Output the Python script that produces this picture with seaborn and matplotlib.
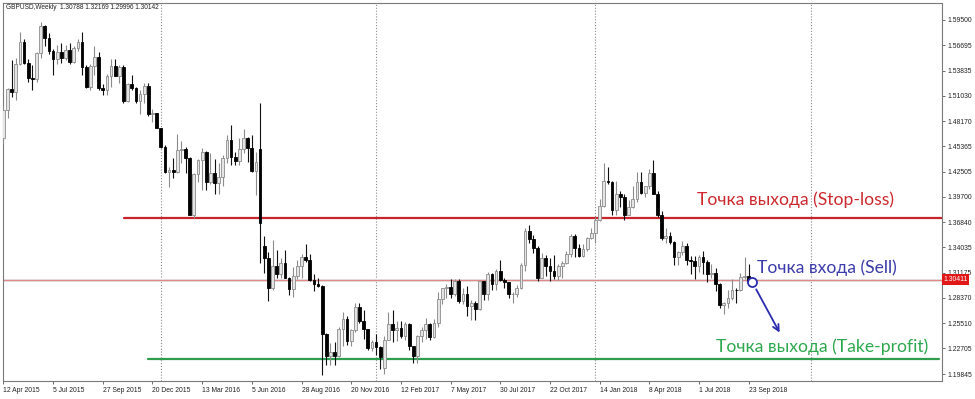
import numpy as np
import pandas as pd
import matplotlib
matplotlib.use("Agg")
import matplotlib.pyplot as plt
import seaborn as sns

# ---------------- data ----------------
opens = [
    1.4626, 1.4946, 1.5180, 1.5140, 1.5455, 1.5705, 1.5470, 1.5300, 1.5285, 1.5575,
    1.5880, 1.5745, 1.5600, 1.5510, 1.5590, 1.5520, 1.5615, 1.5480, 1.5640, 1.5700,
    1.5420, 1.5195, 1.5430, 1.5540, 1.5190, 1.5170, 1.5320, 1.5430, 1.5320, 1.5425,
    1.5040, 1.5230, 1.5185, 1.5040, 1.5120, 1.5210, 1.4895, 1.4905, 1.4740, 1.4530,
    1.4250, 1.4265, 1.4250, 1.4495, 1.4500, 1.4400, 1.3770, 1.4230, 1.4380, 1.4470,
    1.4130, 1.4236, 1.4125, 1.4195, 1.4400, 1.4610, 1.4420, 1.4375, 1.4500, 1.4630,
    1.4515, 1.4255, 1.4500, 1.3420, 1.3280, 1.2950, 1.3190, 1.3110, 1.3230, 1.3060,
    1.2940, 1.3080, 1.3190, 1.3300, 1.3260, 1.3040, 1.2995, 1.2970, 1.2430, 1.2185,
    1.2230, 1.2190, 1.2485, 1.2595, 1.2350, 1.2475, 1.2740, 1.2580, 1.2485, 1.2280,
    1.2340, 1.2285, 1.2050, 1.2370, 1.2550, 1.2480, 1.2495, 1.2410, 1.2545, 1.2295,
    1.2190, 1.2405, 1.2475, 1.2550, 1.2400, 1.2560, 1.2830, 1.2950, 1.2960, 1.2880,
    1.3030, 1.2800, 1.2880, 1.2745, 1.2780, 1.2715, 1.3025, 1.2885, 1.3100, 1.2995,
    1.3135, 1.3040, 1.3010, 1.2875, 1.2880, 1.2950, 1.3200, 1.3590, 1.3500, 1.3400,
    1.3065, 1.3285, 1.3190, 1.3135, 1.3080, 1.3190, 1.3225, 1.3325, 1.3525, 1.3400,
    1.3310, 1.3380, 1.3505, 1.3565, 1.3715, 1.3865, 1.4150, 1.4130, 1.3825, 1.4000,
    1.3965, 1.3770, 1.3850, 1.3950, 1.4140, 1.4015, 1.4090, 1.4240, 1.4005, 1.3770,
    1.3510, 1.3525, 1.3465, 1.3300, 1.3355, 1.3415, 1.3260, 1.3255, 1.3190, 1.3290,
    1.3235, 1.3100, 1.3115, 1.2995, 1.2760, 1.2775, 1.2840, 1.2925, 1.2920, 1.3070,
    1.30788,
]
highs = [
    1.4986, 1.5192, 1.5498, 1.5523, 1.5815, 1.5740, 1.5515, 1.5440, 1.5590, 1.5930,
    1.5890, 1.5800, 1.5620, 1.5675, 1.5690, 1.5675, 1.5690, 1.5655, 1.5735, 1.5820,
    1.5440, 1.5455, 1.5660, 1.5595, 1.5235, 1.5350, 1.5510, 1.5510, 1.5450, 1.5440,
    1.5240, 1.5335, 1.5200, 1.5170, 1.5240, 1.5240, 1.4950, 1.4910, 1.4745, 1.4550,
    1.4300, 1.4400, 1.4670, 1.4590, 1.4530, 1.4415, 1.4235, 1.4390, 1.4515, 1.4480,
    1.4460, 1.4390, 1.4345, 1.4440, 1.4665, 1.4770, 1.4470, 1.4630, 1.4730, 1.4635,
    1.4660, 1.4470, 1.5018, 1.3530, 1.3350, 1.3480, 1.3370, 1.3280, 1.3370, 1.3070,
    1.3185, 1.3260, 1.3325, 1.3445, 1.3330, 1.3100, 1.3060, 1.2985, 1.2445, 1.2330,
    1.2340, 1.2510, 1.2675, 1.2630, 1.2490, 1.2775, 1.2775, 1.2705, 1.2490, 1.2370,
    1.2430, 1.2300, 1.2415, 1.2675, 1.2705, 1.2580, 1.2580, 1.2570, 1.2555, 1.2300,
    1.2425, 1.2510, 1.2615, 1.2555, 1.2600, 1.2905, 1.2950, 1.2990, 1.3050, 1.3045,
    1.3050, 1.2950, 1.2975, 1.2810, 1.2800, 1.3030, 1.3030, 1.3125, 1.3115, 1.3160,
    1.3265, 1.3055, 1.3020, 1.2905, 1.2980, 1.3225, 1.3615, 1.3657, 1.3540, 1.3420,
    1.3340, 1.3320, 1.3280, 1.3320, 1.3220, 1.3245, 1.3365, 1.3550, 1.3550, 1.3440,
    1.3445, 1.3515, 1.3615, 1.3745, 1.3945, 1.4345, 1.4300, 1.4150, 1.4145, 1.4035,
    1.4000, 1.3930, 1.4090, 1.4245, 1.4245, 1.4090, 1.4280, 1.4377, 1.4035, 1.3815,
    1.3620, 1.3570, 1.3470, 1.3365, 1.3470, 1.3450, 1.3305, 1.3310, 1.3315, 1.3365,
    1.3260, 1.3215, 1.3175, 1.3005, 1.2795, 1.2930, 1.3045, 1.2945, 1.3120, 1.3298,
    1.32169,
]
lows = [
    1.4566, 1.4853, 1.5085, 1.5054, 1.5450, 1.5455, 1.5255, 1.5170, 1.5260, 1.5520,
    1.5660, 1.5565, 1.5330, 1.5460, 1.5470, 1.5505, 1.5460, 1.5465, 1.5605, 1.5335,
    1.5185, 1.5165, 1.5330, 1.5160, 1.5105, 1.5105, 1.5200, 1.5320, 1.5245, 1.5025,
    1.5030, 1.5170, 1.5025, 1.4895, 1.5015, 1.4870, 1.4805, 1.4735, 1.4515, 1.4240,
    1.4080, 1.4175, 1.4240, 1.4350, 1.4240, 1.3760, 1.3735, 1.4135, 1.4050, 1.4050,
    1.4110, 1.4005, 1.4005, 1.4090, 1.4345, 1.4330, 1.4330, 1.4330, 1.4455, 1.4355,
    1.4250, 1.3990, 1.3229, 1.3120, 1.2798, 1.2930, 1.3060, 1.3055, 1.3055, 1.2865,
    1.2850, 1.3050, 1.3055, 1.3235, 1.3030, 1.2915, 1.2955, 1.1970, 1.2085, 1.2085,
    1.2080, 1.2170, 1.2300, 1.2305, 1.2300, 1.2450, 1.2560, 1.2375, 1.2250, 1.2240,
    1.2195, 1.2040, 1.1986, 1.2370, 1.2345, 1.2350, 1.2385, 1.2370, 1.2250, 1.2110,
    1.2110, 1.2345, 1.2380, 1.2365, 1.2390, 1.2515, 1.2770, 1.2840, 1.2840, 1.2860,
    1.2775, 1.2770, 1.2635, 1.2590, 1.2590, 1.2700, 1.2810, 1.2810, 1.2930, 1.2930,
    1.3030, 1.2950, 1.2840, 1.2775, 1.2850, 1.2940, 1.3140, 1.3450, 1.3340, 1.3030,
    1.3060, 1.3080, 1.3030, 1.3050, 1.3035, 1.3060, 1.3220, 1.3300, 1.3300, 1.3300,
    1.3300, 1.3360, 1.3500, 1.3455, 1.3700, 1.3860, 1.4110, 1.3765, 1.3760, 1.3855,
    1.3710, 1.3760, 1.3840, 1.3910, 1.4000, 1.3965, 1.4055, 1.4000, 1.3745, 1.3485,
    1.3450, 1.3445, 1.3205, 1.3205, 1.3320, 1.3200, 1.3100, 1.3050, 1.3125, 1.3100,
    1.3010, 1.3060, 1.2915, 1.2725, 1.2662, 1.2720, 1.2815, 1.2785, 1.2915, 1.3050,
    1.29996,
]
closes = [
    1.4946, 1.5180, 1.5140, 1.5455, 1.5705, 1.5470, 1.5300, 1.5285, 1.5575, 1.5880,
    1.5745, 1.5600, 1.5510, 1.5590, 1.5520, 1.5615, 1.5480, 1.5640, 1.5700, 1.5420,
    1.5195, 1.5430, 1.5540, 1.5190, 1.5170, 1.5320, 1.5430, 1.5320, 1.5425, 1.5040,
    1.5230, 1.5185, 1.5040, 1.5120, 1.5210, 1.4895, 1.4905, 1.4740, 1.4530, 1.4250,
    1.4265, 1.4250, 1.4495, 1.4500, 1.4400, 1.3770, 1.4230, 1.4380, 1.4470, 1.4130,
    1.4236, 1.4125, 1.4195, 1.4400, 1.4610, 1.4420, 1.4375, 1.4500, 1.4630, 1.4515,
    1.4255, 1.4360, 1.3680, 1.3280, 1.2950, 1.3190, 1.3110, 1.3230, 1.3060, 1.2940,
    1.3080, 1.3190, 1.3300, 1.3260, 1.3040, 1.2995, 1.2970, 1.2430, 1.2185, 1.2230,
    1.2190, 1.2485, 1.2595, 1.2350, 1.2475, 1.2740, 1.2580, 1.2485, 1.2280, 1.2340,
    1.2285, 1.2180, 1.2370, 1.2550, 1.2480, 1.2495, 1.2410, 1.2545, 1.2295, 1.2190,
    1.2405, 1.2475, 1.2550, 1.2400, 1.2560, 1.2830, 1.2950, 1.2960, 1.2880, 1.3030,
    1.2800, 1.2880, 1.2745, 1.2780, 1.2715, 1.3025, 1.2885, 1.3100, 1.2995, 1.3135,
    1.3040, 1.3010, 1.2875, 1.2880, 1.2950, 1.3200, 1.3590, 1.3500, 1.3400, 1.3065,
    1.3285, 1.3190, 1.3135, 1.3080, 1.3190, 1.3225, 1.3325, 1.3525, 1.3400, 1.3310,
    1.3380, 1.3505, 1.3565, 1.3715, 1.3865, 1.4150, 1.4130, 1.3825, 1.4000, 1.3965,
    1.3770, 1.3850, 1.3950, 1.4140, 1.4015, 1.4090, 1.4240, 1.4005, 1.3770, 1.3510,
    1.3525, 1.3465, 1.3300, 1.3355, 1.3415, 1.3260, 1.3255, 1.3190, 1.3290, 1.3235,
    1.3100, 1.3115, 1.2995, 1.2760, 1.2775, 1.2840, 1.2925, 1.2920, 1.3070, 1.3080,
    1.30142,
]

date_tick_labels = ["12 Apr 2015", "5 Jul 2015", "27 Sep 2015", "20 Dec 2015",
                    "13 Mar 2016", "5 Jun 2016", "28 Aug 2016", "20 Nov 2016",
                    "12 Feb 2017", "7 May 2017", "30 Jul 2017", "22 Oct 2017",
                    "14 Jan 2018", "8 Apr 2018", "1 Jul 2018", "23 Sep 2018"]
price_ticks = [1.59500, 1.56695, 1.53835, 1.51030, 1.48170, 1.45365, 1.42505, 1.39700,
               1.36840, 1.34035, 1.31175, 1.28370, 1.25510, 1.22705, 1.19845]
year_start_bars = [38, 90, 143, 195]   # first weekly bar of 2016, 2017, 2018, 2019
current_price = 1.30411
stop_loss_level = 1.3727
take_profit_level = 1.2150
entry_point = (180.8, 1.3015)
arrow_end = (187.8, 1.2421)
title_text = "GBPUSD,Weekly  1.30788 1.32169 1.29996 1.30142"
label_stop = "Точка выхода (Stop-loss)"
label_entry = "Точка входа (Sell)"
label_take = "Точка выхода (Take-profit)"

# ---------------- figure ----------------
sns.set_theme(style="white")
plt.rcParams['font.family'] = ['Liberation Sans', 'DejaVu Sans']

df = pd.DataFrame({"week": np.arange(len(opens)), "open": opens, "high": highs,
                   "low": lows, "close": closes})
df["bull"] = df["close"] >= df["open"]
df["body_lo"] = df[["open", "close"]].min(axis=1)
df["body_h"] = (df["close"] - df["open"]).abs().clip(lower=0.0006)

fig = plt.figure(figsize=(9.75, 3.99), dpi=100)
ax = fig.add_axes([3 / 975, 18 / 399, 939 / 975, 378 / 399])
ax.set_xlim(-0.1, 226.7)
ax.set_ylim(1.19061, 1.6140)

# year separators
for b in year_start_bars:
    ax.axvline(b, color="#8a8a8a", lw=0.8, ls=(0, (1, 1.6)), zorder=1)

# current price line
ax.axhline(current_price, color="#e6e6e6", lw=2.2, zorder=1)
ax.axhline(current_price, color="#e08888", lw=0.9, zorder=1.1)

# levels
lv = pd.DataFrame({"x": [29.1, 226.7, 34.9, 226.0],
                   "y": [stop_loss_level, stop_loss_level, take_profit_level, take_profit_level],
                   "lvl": ["sl", "sl", "tp", "tp"]})
sns.lineplot(data=lv, x="x", y="y", hue="lvl", palette={"sl": "#c8242c", "tp": "#2e9e4c"},
             lw=1.6, legend=False, ax=ax, zorder=2)

# candles
bull = df[df["bull"]]
bear = df[~df["bull"]]
ax.vlines(bull["week"], bull["low"], bull["high"], color="#8c8c8c", lw=0.8, zorder=3)
ax.vlines(bear["week"], bear["low"], bear["high"], color="#111111", lw=0.8, zorder=3)
ax.bar(bull["week"], bull["body_h"], bottom=bull["body_lo"], width=0.66,
       color="#e4e4e4", edgecolor="#8c8c8c", linewidth=0.6, zorder=4)
ax.bar(bear["week"], bear["body_h"], bottom=bear["body_lo"], width=0.66,
       color="#000000", edgecolor="#000000", linewidth=0.6, zorder=4)

# annotations
ann_font = ["Lato", "DejaVu Sans"]
ax.text(167.5, 1.3934, label_stop, color="#cc2a2f", fontsize=12.6, family=ann_font,
        ha="left", va="center", zorder=5)
ax.text(182.0, 1.3172, label_entry, color="#3b3bab", fontsize=12.6, family=ann_font,
        ha="left", va="center", zorder=5)
ax.text(172.1, 1.2287, label_take, color="#2ea84f", fontsize=12.6, family=ann_font,
        ha="left", va="center", zorder=5)
ax.plot([entry_point[0]], [entry_point[1]], marker="o", ms=6.5, mfc="white", mec="#2b2bb0",
        mew=1.3, zorder=6)
ax.annotate("", xy=arrow_end, xytext=(entry_point[0] + 0.7, entry_point[1] - 0.0055),
            arrowprops=dict(arrowstyle="->", color="#2b2bb0", lw=1.3, mutation_scale=11),
            zorder=6)

ax.text(0.0032, 0.987, title_text, transform=ax.transAxes, fontsize=4.7, color="#222222",
        ha="left", va="center")

# axes styling
for s in ax.spines.values():
    s.set_color("#7a7a7a")
    s.set_linewidth(0.8)
ax.yaxis.tick_right()
ax.set_yticks(price_ticks)
ax.set_yticklabels([f"{p:.5f}" for p in price_ticks])
xt = list(range(0, 181, 12))
ax.set_xticks(xt)
ax.set_xticklabels(date_tick_labels, ha="left")
ax.tick_params(axis="both", which="both", length=2.5, width=0.6, color="#555555",
               labelsize=4.9, labelcolor="#222222", pad=1.5, direction="out")
ax.tick_params(axis="x", bottom=True, pad=2)
ax.tick_params(axis="y", right=True, left=False)
ax.set_xlabel("")
ax.set_ylabel("")
ax.grid(False)

# current price tag on the scale
ax.text(1.0015, current_price, f"{current_price:.5f}",
        transform=ax.get_yaxis_transform(), fontsize=4.9, color="white",
        ha="left", va="center", zorder=7, clip_on=False,
        bbox=dict(boxstyle="square,pad=0.25", fc="#e01818", ec="#e01818", lw=0))

fig.savefig("out.png", dpi=100, facecolor="white")
